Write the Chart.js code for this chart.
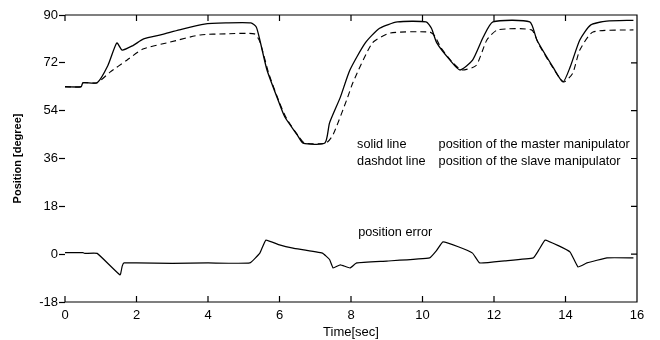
<!DOCTYPE html>
<html>
<head>
<meta charset="utf-8">
<script src="https://cdn.jsdelivr.net/npm/chart.js@4"></script>
<style>
  html, body { margin: 0; padding: 0; background: #fff; }
  #wrap { width: 660px; height: 340px; }
</style>
</head>
<body>
<div id="wrap"><canvas id="trackingChart"></canvas></div>
<script>
// time [sec] / position [degree]
var masterTime = [0, 0.45, 0.5, 0.9, 1.2, 1.45, 1.6, 1.9, 2.2, 2.7, 3.2, 3.9, 4.5, 5.2, 5.35, 5.45, 5.65, 5.96, 6.15, 6.5, 6.66, 7.27, 7.4, 7.7, 7.97, 8.4, 8.8, 9.3, 10.1, 10.25, 10.4, 10.77, 11.05, 11.4, 11.7, 11.97, 13.0, 13.2, 13.65, 13.93, 14.13, 14.4, 14.7, 15.15, 15.9];
var masterPos = [63, 63, 64.5, 64.5, 71, 79.5, 76.8, 78.5, 81, 82.6, 84.4, 86.6, 87, 87, 85.5, 80.6, 69.3, 58, 51.6, 44.8, 41.8, 41.8, 49.4, 59, 69.3, 79.5, 85, 87.4, 87.4, 85, 79.5, 73, 69.3, 73, 81.7, 87.4, 87.4, 80.6, 70.4, 64.8, 70.4, 80.6, 86.2, 87.7, 88];

var slaveTime = [0, 0.45, 0.5, 0.9, 1.26, 1.73, 2.18, 2.94, 3.78, 4.5, 5.3, 5.45, 5.7, 6.0, 6.2, 6.55, 6.7, 7.3, 7.5, 7.9, 8.06, 8.6, 9.1, 10.2, 10.35, 10.5, 10.85, 11.1, 11.5, 11.8, 12.1, 13.05, 13.25, 13.7, 13.95, 14.2, 14.4, 14.77, 15.9];
var slavePos = [63, 63, 64.5, 64.5, 68.5, 73, 77.2, 79.8, 82.5, 82.9, 82.9, 80, 68, 57, 51, 44, 41.8, 41.8, 45, 58.8, 64.8, 79.5, 83.2, 83.6, 82, 78, 72, 69.3, 71, 80.6, 84.4, 84.4, 79, 69, 64.8, 68, 76.8, 83.6, 84.4];

var errorTime = [0, 0.5, 0.55, 0.9, 1.54, 1.6, 1.65, 2.0, 3.0, 4.0, 5.17, 5.45, 5.62, 6.0, 6.38, 7.2, 7.4, 7.5, 7.7, 7.97, 8.16, 9.0, 10.2, 10.4, 10.57, 11.0, 11.4, 11.6, 12.3, 13.1, 13.25, 13.43, 13.8, 14.13, 14.35, 14.6, 15.16, 15.9];
var errorPos = [0.6, 0.6, 0.3, 0.3, -7.8, -4.5, -3.3, -3.3, -3.5, -3.3, -3.3, 0.4, 5.3, 3.5, 2.3, 0.4, -2, -5.2, -4, -5.2, -3.3, -2.6, -1.4, 1.5, 4.6, 2.8, 0.4, -3.3, -2.5, -1.4, 1.5, 5.3, 3.2, 0.8, -4.8, -3.3, -1.4, -1.4];

var xTicks = [0, 2, 4, 6, 8, 10, 12, 14, 16];
var yTicks = [-18, 0, 18, 36, 54, 72, 90];

var FONT = "'Liberation Sans', Arial, sans-serif";

function toPoints(ts, vs) {
    return ts.map(function (t, i) { return { x: t, y: vs[i] }; });
}

// frame with inward ticks on top / right / bottom, like the old plot
var framePlugin = {
    id: "frame",
    afterDatasetsDraw: function (chart) {
        var ctx = chart.ctx;
        var a = chart.chartArea;
        var xs = chart.scales.x;
        var ys = chart.scales.y;
        ctx.save();
        ctx.strokeStyle = "#000";
        ctx.lineWidth = 1.2;
        ctx.beginPath();
        ctx.moveTo(a.left, a.top);
        ctx.lineTo(a.right, a.top);
        ctx.lineTo(a.right, a.bottom);
        ctx.lineTo(a.left, a.bottom);
        xTicks.forEach(function (t) {
            var px = xs.getPixelForValue(t);
            ctx.moveTo(px, a.bottom);
            ctx.lineTo(px, a.bottom - 6);
            ctx.moveTo(px, a.top);
            ctx.lineTo(px, a.top + 6);
        });
        yTicks.forEach(function (v) {
            var py = ys.getPixelForValue(v);
            ctx.moveTo(a.right, py);
            ctx.lineTo(a.right - 6, py);
        });
        ctx.stroke();
        ctx.restore();
    }
};

var notesPlugin = {
    id: "notes",
    afterDraw: function (chart, args, opts) {
        var ctx = chart.ctx;
        var xs = chart.scales.x;
        var ys = chart.scales.y;
        ctx.save();
        ctx.fillStyle = "#000";
        ctx.font = "12.7px " + FONT;
        ctx.textBaseline = "middle";
        opts.items.forEach(function (n) {
            ctx.fillText(n.text, xs.getPixelForValue(n.x), ys.getPixelForValue(n.y));
        });
        ctx.restore();
    }
};

var trackingCtx = document.getElementById("trackingChart").getContext("2d");

var trackingChart = new Chart(trackingCtx, {
    type: "line",
    data: {
        datasets: [
            {
                label: "master",
                data: toPoints(masterTime, masterPos),
                borderColor: "#000",
                borderWidth: 1.3,
                pointRadius: 0,
                tension: 0.2
            },
            {
                label: "slave",
                data: toPoints(slaveTime, slavePos),
                borderColor: "#000",
                borderWidth: 1.1,
                borderDash: [6, 4],
                pointRadius: 0,
                tension: 0.2
            },
            {
                label: "error",
                data: toPoints(errorTime, errorPos),
                borderColor: "#000",
                borderWidth: 1.2,
                pointRadius: 0,
                tension: 0.1
            }
        ]
    },
    options: {
        responsive: true,
        maintainAspectRatio: false,
        animation: false,
        layout: { padding: { top: 15, right: 23, bottom: 0, left: 11 } },
        plugins: {
            legend: { display: false },
            tooltip: { enabled: false },
            notes: {
                items: [
                    { text: "solid line", x: 8.17, y: 41.1 },
                    { text: "position of the master manipulator", x: 10.45, y: 41.1 },
                    { text: "dashdot line", x: 8.17, y: 34.7 },
                    { text: "position of the slave manipulator", x: 10.45, y: 34.7 },
                    { text: "position error", x: 8.2, y: 8.3 }
                ]
            }
        },
        scales: {
            x: {
                type: "linear",
                min: 0,
                max: 16,
                afterBuildTicks: function (s) { s.ticks = xTicks.map(function (v) { return { value: v }; }); },
                afterFit: function (s) { s.height = 38; },
                grid: { display: false, drawTicks: false },
                border: { display: false },
                ticks: { color: "#000", font: { family: FONT, size: 13 }, padding: 6, maxRotation: 0 },
                title: { display: true, text: "Time[sec]", color: "#000", font: { family: FONT, size: 13 }, padding: 0 }
            },
            y: {
                min: -18,
                max: 90,
                afterBuildTicks: function (s) { s.ticks = yTicks.map(function (v) { return { value: v }; }); },
                afterFit: function (s) { s.width = 54; },
                grid: { drawOnChartArea: false, drawTicks: true, tickLength: 6, color: "#000", tickWidth: 1.2 },
                border: { display: false },
                ticks: { color: "#000", font: { family: FONT, size: 13 }, padding: 1 },
                title: { display: true, text: "Position [degree]", color: "#000", font: { family: FONT, size: 11, weight: "bold" }, padding: 0 }
            }
        }
    },
    plugins: [framePlugin, notesPlugin]
});
</script>
</body>
</html>
